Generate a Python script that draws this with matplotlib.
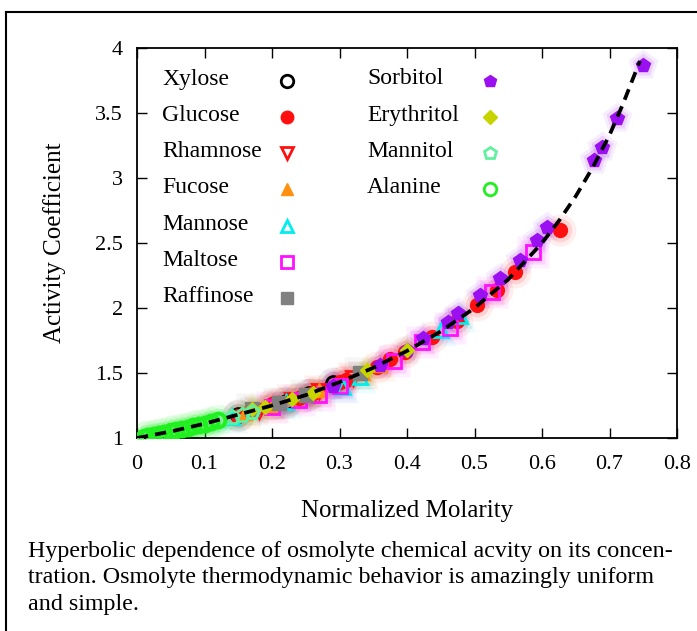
import numpy as np
import matplotlib
matplotlib.use("Agg")
import matplotlib.pyplot as plt
from matplotlib.lines import Line2D

# ---- data ----
curve_x = [0.0, 0.05, 0.1, 0.15, 0.2, 0.25, 0.3, 0.35, 0.4, 0.45, 0.5, 0.55,
           0.6, 0.625, 0.65, 0.675, 0.7, 0.72, 0.745]
curve_y = [1.0, 1.05, 1.11, 1.18, 1.25, 1.33, 1.43, 1.54, 1.67, 1.82, 2.0, 2.22,
           2.5, 2.67, 2.86, 3.08, 3.33, 3.57, 3.90]

xylose_x = [0.15, 0.22, 0.255, 0.29]
xylose_y = [1.18, 1.28, 1.34, 1.42]
glucose_x = [0.15, 0.20, 0.21, 0.24, 0.26, 0.30, 0.31, 0.356, 0.375, 0.397,
             0.437, 0.474, 0.504, 0.533, 0.56, 0.627]
glucose_y = [1.17, 1.26, 1.27, 1.31, 1.35, 1.43, 1.45, 1.55, 1.61, 1.66,
             1.78, 1.90, 2.02, 2.14, 2.28, 2.60]
rhamnose_x = [0.18, 0.23, 0.27, 0.32]
rhamnose_y = [1.21, 1.29, 1.36, 1.46]
fucose_x = [0.16, 0.20, 0.27, 0.335, 0.36]
fucose_y = [1.19, 1.25, 1.37, 1.50, 1.56]
mannose_x = [0.14, 0.22, 0.305, 0.33, 0.45, 0.478]
mannose_y = [1.16, 1.28, 1.39, 1.47, 1.83, 1.94]
maltose_x = [0.20, 0.24, 0.27, 0.30, 0.38, 0.422, 0.463, 0.526, 0.587]
maltose_y = [1.24, 1.29, 1.33, 1.40, 1.59, 1.74, 1.85, 2.12, 2.43]
raffinose_x = [0.17, 0.21, 0.25, 0.33]
raffinose_y = [1.22, 1.27, 1.33, 1.50]
sorbitol_x = [0.29, 0.36, 0.40, 0.424, 0.46, 0.476, 0.508, 0.538, 0.567,
              0.592, 0.607, 0.677, 0.689, 0.711, 0.75]
sorbitol_y = [1.40, 1.56, 1.68, 1.77, 1.89, 1.96, 2.10, 2.23, 2.37,
              2.52, 2.62, 3.14, 3.24, 3.46, 3.87]
erythritol_x = [0.17, 0.19, 0.23, 0.26, 0.34, 0.40]
erythritol_y = [1.22, 1.24, 1.30, 1.35, 1.52, 1.68]
mannitol_x = [0.11, 0.125, 0.14, 0.155, 0.17]
mannitol_y = [1.12, 1.14, 1.16, 1.18, 1.20]
alanine_x = [0.01, 0.017, 0.025, 0.033, 0.04, 0.05, 0.058, 0.066, 0.075,
             0.083, 0.092, 0.1, 0.11, 0.12]
alanine_y = [1.01, 1.018, 1.025, 1.034, 1.042, 1.052, 1.062, 1.07, 1.08,
             1.09, 1.10, 1.11, 1.123, 1.136]

x_ticks = [0, 0.1, 0.2, 0.3, 0.4, 0.5, 0.6, 0.7, 0.8]
x_ticklabels = ["0", "0.1", "0.2", "0.3", "0.4", "0.5", "0.6", "0.7", "0.8"]
y_ticks = [1, 1.5, 2, 2.5, 3, 3.5, 4]
y_ticklabels = ["1", "1.5", "2", "2.5", "3", "3.5", "4"]

caption = ("Hyperbolic dependence of osmolyte chemical acvity on its concen-\n"
           "tration. Osmolyte thermodynamic behavior is amazingly uniform\n"
           "and simple.")

# name, x, y, marker, colour, filled
series = [
    ("Xylose", xylose_x, xylose_y, "o", "black", False),
    ("Glucose", glucose_x, glucose_y, "o", "#ff1010", True),
    ("Rhamnose", rhamnose_x, rhamnose_y, "v", "#ff1010", False),
    ("Fucose", fucose_x, fucose_y, "^", "#ff9010", True),
    ("Mannose", mannose_x, mannose_y, "^", "#00eeee", False),
    ("Maltose", maltose_x, maltose_y, "s", "#ff10ff", False),
    ("Raffinose", raffinose_x, raffinose_y, "s", "#808080", True),
    ("Sorbitol", sorbitol_x, sorbitol_y, "p", "#9a10f0", True),
    ("Erythritol", erythritol_x, erythritol_y, "D", "#c8d400", True),
    ("Mannitol", mannitol_x, mannitol_y, "p", "#60f0a0", False),
    ("Alanine", alanine_x, alanine_y, "o", "#20f020", False),
]

plt.rcParams["font.family"] = ["Liberation Serif", "DejaVu Serif"]

fig = plt.figure(figsize=(6.97, 6.31), dpi=100)
ax = fig.add_axes([137 / 697, 1 - 438 / 631, 540 / 697, 390 / 631])


def mstyle(marker, color, filled, ms, mew=2.0):
    if filled:
        return dict(marker=marker, ms=ms, mfc=color, mec=color, mew=1.0)
    return dict(marker=marker, ms=ms, mfc="none", mec=color, mew=mew)


for name, xs, ys, m, c, filled in series:
    ms = 10 if m != "D" else 7.5
    mew = 2.8 if name == "Alanine" else 2.0
    # soft glow round the markers
    for scale, a in [(2.3, 0.07), (1.7, 0.12)]:
        ax.plot(xs, ys, ls="none", marker=m, ms=ms * scale, mfc=c, mec="none",
                alpha=a, zorder=2)
    ax.plot(xs, ys, ls="none", zorder=3, **mstyle(m, c, filled, ms, mew))

ax.plot(curve_x, curve_y, color="black", lw=2.7, ls=(0, (3.0, 1.9)), zorder=5)

ax.set_xlim(0, 0.8)
ax.set_ylim(1, 4)
ax.set_xticks(x_ticks)
ax.set_xticklabels(x_ticklabels)
ax.set_yticks(y_ticks)
ax.set_yticklabels(y_ticklabels)
ax.tick_params(direction="in", length=7, width=1, top=True, right=True,
               labelsize=16)
ax.tick_params(axis="x", pad=12)
ax.tick_params(axis="y", pad=10)
for s in ax.spines.values():
    s.set_linewidth(1.3)

ax.set_xlabel("Normalized Molarity", fontsize=18)
ax.xaxis.label.set_va("center")
ax.xaxis.set_label_coords(0.5, (438 - 511) / 390)
ax.set_ylabel("Activity Coefficient", fontsize=18)
ax.yaxis.label.set_va("center")
ax.yaxis.set_label_coords((55 - 137) / 540, 0.5)

# gnuplot-like key: text left aligned, markers in one column
col_text = [(162 - 137) / 540, (367 - 137) / 540]
col_mark = [(287 - 137) / 540, (490 - 137) / 540]
row0 = (438 - 79) / 390
drow = 36.3 / 390
for i, (name, xs, ys, m, c, filled) in enumerate(series):
    col = 0 if i < 7 else 1
    row = i if i < 7 else i - 7
    yy = row0 - row * drow
    ax.text(col_text[col], yy, name, transform=ax.transAxes, fontsize=17,
            va="center", ha="left")
    ms = 9 if m != "D" else 7
    ax.add_line(Line2D([col_mark[col]], [yy - 1.5 / 390], transform=ax.transAxes,
                       ls="none", **mstyle(m, c, filled, ms)))

fig.text(28 / 697, 1 - 578 / 631, caption, fontsize=17.3, ha="left",
         va="center", linespacing=1.33)

# outer frame (runs off the right and bottom of the picture)
fig.add_artist(Line2D([6 / 697, 1.01], [1 - 12 / 631] * 2, color="black",
                      lw=1.5, transform=fig.transFigure))
fig.add_artist(Line2D([6 / 697] * 2, [1 - 12 / 631, -0.01], color="black",
                      lw=1.5, transform=fig.transFigure))

fig.savefig("out.png", dpi=100)
